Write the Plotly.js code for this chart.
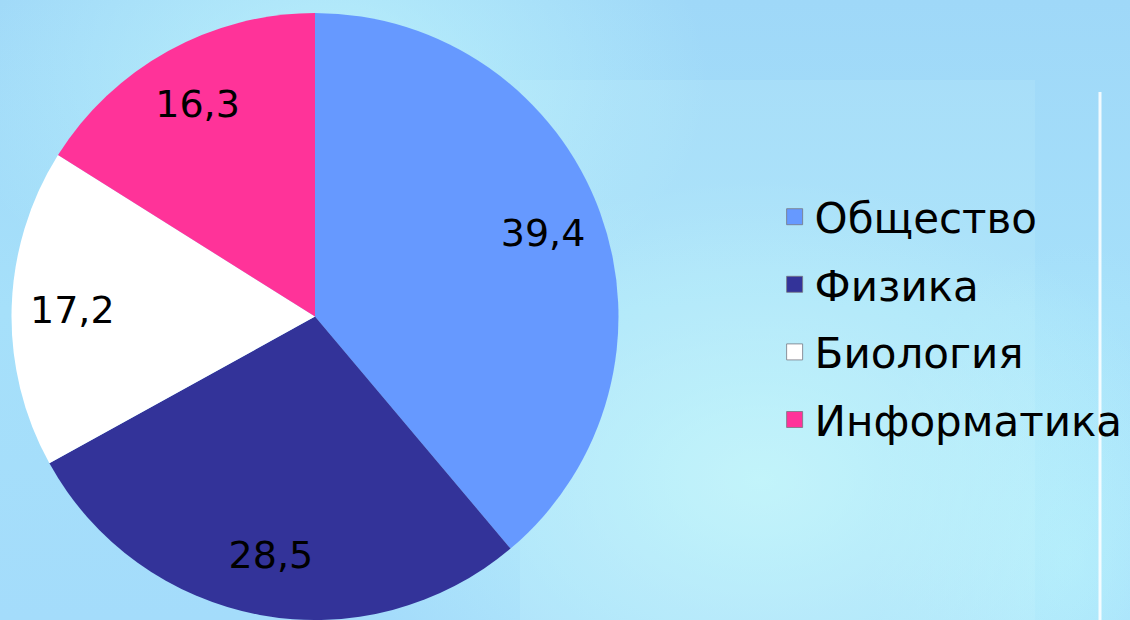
<!DOCTYPE html>
<html>
<head>
<meta charset="utf-8">
<script src="https://cdn.plot.ly/plotly-3.0.1.min.js"></script>
<style>
html,body{margin:0;padding:0;}
body{width:1130px;height:620px;overflow:hidden;
background:
 radial-gradient(ellipse 420px 300px at 760px 480px, rgba(200,250,250,0.75), rgba(200,250,250,0) 100%),
 radial-gradient(ellipse 380px 260px at 330px 80px, rgba(195,248,252,0.7), rgba(195,248,252,0) 100%),
 radial-gradient(ellipse 200px 320px at 1070px 560px, rgba(185,245,252,0.6), rgba(185,245,252,0) 100%),
 linear-gradient(180deg,#9fd8f8 0%,#a6e0fa 50%,#a4dcfb 100%);}
#chart{width:1130px;height:620px;}
</style>
</head>
<body>
<div id="chart"></div>
<script>
const categories = ['Общество', 'Физика', 'Биология', 'Информатика'];
const values = [39.4, 28.5, 17.2, 16.3];
const colors = ['#6699FF', '#333399', '#FFFFFF', '#FF3399'];

const FONT = 'DejaVu Sans, Verdana, sans-serif';
const pieDomain = {x: [10/1130, 620/1130], y: [0, 0.979]};

// the coloured pie
const pie = {
  type: 'pie',
  labels: categories,
  values: values,
  sort: false,
  direction: 'clockwise',
  rotation: 0,
  marker: {colors: colors, line: {width: 0}},
  textinfo: 'none',
  showlegend: false,
  domain: pieDomain
};

// same data, transparent ring, used only to place the value labels near the rim
const pieLabels = {
  type: 'pie',
  labels: categories,
  values: values,
  sort: false,
  direction: 'clockwise',
  rotation: 0,
  hole: 0.6,
  marker: {colors: categories.map(() => 'rgba(0,0,0,0)'), line: {width: 0}},
  texttemplate: '%{value:.1f}',
  textposition: 'inside',
  insidetextorientation: 'horizontal',
  textfont: {family: FONT, size: 38, color: '#000000'},
  showlegend: false,
  domain: pieDomain
};

// legend entries (one per category)
const legendTraces = categories.map((c, i) => ({
  type: 'scatter',
  mode: 'markers',
  x: [null], y: [null],
  name: c,
  legendgroup: 'g' + i,
  marker: {symbol: 'square', size: 16, color: colors[i], line: {color: 'rgba(120,120,130,0.8)', width: 1}},
  hoverinfo: 'skip'
}));

const layout = {
  width: 1130, height: 620,
  margin: {l: 0, r: 0, t: 0, b: 0},
  paper_bgcolor: 'rgba(0,0,0,0)',
  plot_bgcolor: 'rgba(0,0,0,0)',
  separators: ', ',
  showlegend: true,
  xaxis: {visible: false, domain: [0.99, 1]},
  yaxis: {visible: false, domain: [0.99, 1]},
  legend: {
    x: 0.6855, y: 0.705, xanchor: 'left', yanchor: 'top',
    font: {family: FONT, size: 42, color: '#000000'},
    bgcolor: 'rgba(0,0,0,0)',
    traceorder: 'grouped',
    tracegroupgap: 10,
    itemwidth: 30,
    itemsizing: 'trace'
  },
  shapes: [
    {type: 'rect', xref: 'paper', yref: 'paper', layer: 'below',
     x0: 520/1130, x1: 1035/1130, y0: 0, y1: 1 - 80/620,
     fillcolor: 'rgba(220,255,255,0.12)', line: {width: 0}},
    {type: 'line', xref: 'paper', yref: 'paper',
     x0: 1100/1130, x1: 1100/1130, y0: 0, y1: 1 - 92/620,
     line: {color: 'rgba(255,255,255,0.85)', width: 3}}
  ]
};

Plotly.newPlot('chart', [pie, pieLabels].concat(legendTraces), layout, {displayModeBar: false, staticPlot: true});
</script>
</body>
</html>
